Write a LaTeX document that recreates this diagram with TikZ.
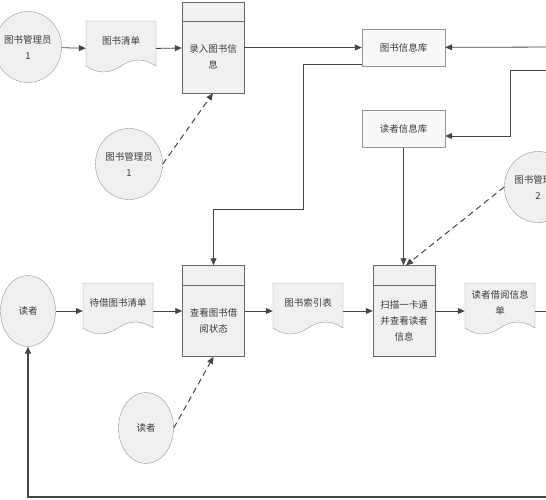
\documentclass[tikz,border=0pt]{standalone}
\usepackage{fontspec}
\usepackage{xcolor}
\usepackage{tikz}
\usetikzlibrary{arrows.meta,calc,shapes.geometric}
\newfontfamily\cjk{Noto Sans CJK SC}
\definecolor{inkline}{RGB}{70,70,70}
\definecolor{inktext}{RGB}{60,60,60}
\definecolor{shapeedge}{RGB}{150,150,150}
\definecolor{shapefill}{RGB}{240,240,240}
\tikzset{
  base/.style={font=\cjk\fontsize{9.5}{16}\selectfont, text=inktext, align=center},
  actor/.style={base, ellipse, draw=shapeedge, fill=shapefill, minimum width=55pt, minimum height=71pt, inner sep=0pt},   % external entity
  store/.style={base, rectangle, draw=shapeedge, fill=shapefill!50, minimum width=83pt, minimum height=37pt}, % data store
  procbox/.style={rectangle, draw=shapeedge!70!black, fill=shapefill, minimum width=62pt, minimum height=91pt},
  docline/.style={draw=shapeedge, fill=shapefill},
  docanchor/.style={rectangle, minimum width=70pt, minimum height=56pt, inner sep=0pt},
  flow/.style={-{Triangle[length=7pt,width=6pt]}, draw=inkline, line width=0.8pt},
  dashflow/.style={flow, dash pattern=on 6pt off 4pt, line width=1pt},
  backflow/.style={flow, line width=1.3pt}
}
\newcommand{\DocBox}[4]{% name, left, top, text
  \path[docline] (#2,#3) -- ({#2+70},#3) -- ({#2+70},{#3+45})
    .. controls ({#2+58},{#3+37}) and ({#2+47},{#3+37}) .. ({#2+35},{#3+45})
    .. controls ({#2+23},{#3+53}) and ({#2+12},{#3+53}) .. (#2,{#3+45}) -- cycle;
  \node[docanchor] (#1) at ({#2+35},{#3+28}) {};
  \node[base] (#1-t) at ({#2+35},{#3+20}) {#4};
}
\newcommand{\ProcBox}[4]{% name, center x, center y, text
  \node[procbox] (#1) at (#2,#3) {};
  \draw[shapeedge!70!black] ([yshift=-19.5pt]#1.north west) -- ([yshift=-19.5pt]#1.north east);
  \node[base] (#1-t) at ($(#1.south)!0.5!([yshift=-19.5pt]#1.north)$) {#4};
}

\begin{document}
\begin{tikzpicture}[x=1pt, y=-1pt]
  \useasboundingbox (0,0) rectangle (546,500);
  \clip (0,0) rectangle (546,500);
  % top row: entering book data
  \node[actor] (E1) at (28,47) {图书管理员\\1};
  \DocBox{D1}{86}{21}{图书清单}
  \ProcBox{P1}{213}{47.5}{录入图书信\\息}
  \node[store] (S1) at (403.5,47.5) {图书信息库};
  \node[store] (S2) at (403.5,129) {读者信息库};
  \node[actor] (E2) at (129,164) {图书管理员\\1};
  \node[actor] (E4) at (538,187) {图书管理员\\2};
  % middle row: borrowing
  \node[actor] (R1) at (28,311) {读者};
  \DocBox{D2}{83}{283}{待借图书清单}
  \ProcBox{P2}{213.5}{311}{查看图书借\\阅状态}
  \DocBox{D3}{273}{283}{图书索引表}
  \ProcBox{P3}{404}{311}{扫描一卡通\\并查看读者\\信息}
  \DocBox{D4}{465}{283}{读者借阅信息\\单}
  \node[actor] (R2) at (146,428) {读者};
  % free ends beyond the right border
  \coordinate (edgeA) at (560,47);
  \coordinate (edgeB) at (560,70);
  \coordinate (edgeC) at (560,497);
  \coordinate (edgeD) at (560,247);
  \coordinate (edgeE) at (560,311);
  % flows
  \draw[flow] (E1) -- (D1);
  \draw[flow] (D1) -- (P1);
  \draw[flow] (P1) -- (P1 -| S1.west);
  \draw[flow] (edgeA) -- (S1);
  \draw[flow] (edgeB) -- ++(-50,0) |- ([yshift=-7pt]S2.east);
  \draw[flow] ([yshift=2pt]S1.south west) -- ++(-58,0) -- ++(0,145) -| (P2.north);
  \draw[flow] (S2.south) -- (S2.south |- P3.north);
  \draw[dashflow] (E2.east) -- (P1.south);
  \draw[dashflow] (E4.west) -- ([xshift=2pt]P3.north);
  \draw[dashflow, -] (E4.-75) -- (edgeD);
  \draw[flow] (R1) -- (D2);
  \draw[flow] (D2) -- (P2);
  \draw[flow] (P2) -- (D3);
  \draw[flow] (D3) -- (P3);
  \draw[flow] (P3) -- (D4);
  \draw[flow, -] (D4) -- (edgeE);
  \draw[dashflow] (R2.east) -- (P2.south);
  \draw[backflow] (edgeC) -| (R1.south);
\end{tikzpicture}
\end{document}
